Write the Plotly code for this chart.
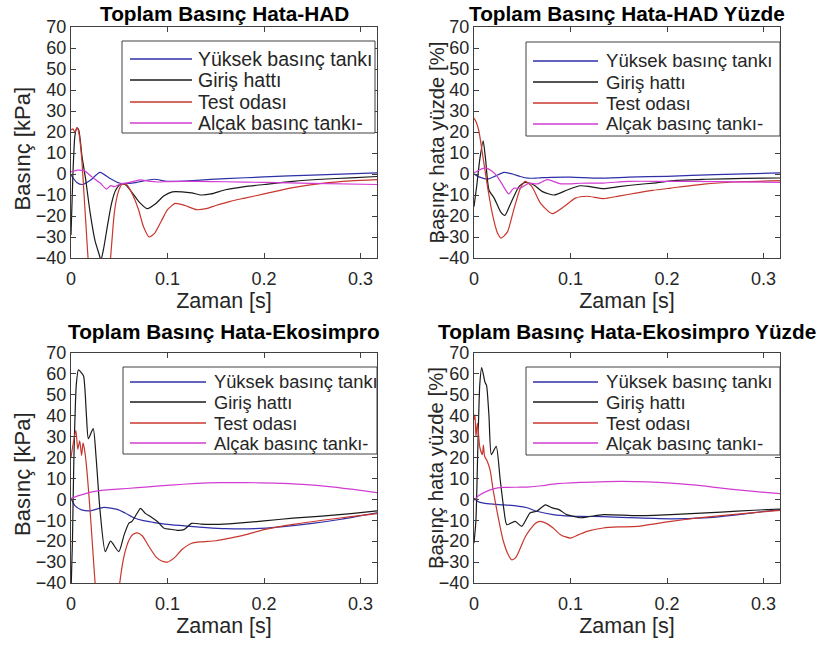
import plotly.graph_objects as go

# ---------------- data ----------------
names = ["Yüksek basınç tankı", "Giriş hattı", "Test odası", "Alçak basınç tankı-"]
colors = ["#2f2fa8", "#1a1a1a", "#c8372d", "#d23cd2"]

titles = ["Toplam Basınç Hata-HAD", "Toplam Basınç Hata-HAD Yüzde",
          "Toplam Basınç Hata-Ekosimpro", "Toplam Basınç Hata-Ekosimpro Yüzde"]
ylabels = ["Basınç [kPa]", "Basınç hata yüzde [%]", "Basınç [kPa]", "Basınç hata yüzde [%]"]
xlabel = "Zaman [s]"
xtick_vals = [0, 0.1, 0.2, 0.3]
xtick_text = ["0", "0.1", "0.2", "0.3"]
ytick_vals = [-40, -30, -20, -10, 0, 10, 20, 30, 40, 50, 60, 70]

# --- panel 1: HAD [kPa]
t1_blue = [0, 0.006, 0.012, 0.02, 0.03, 0.04, 0.05, 0.06, 0.07, 0.086, 0.1, 0.13, 0.16, 0.2, 0.25, 0.317]
y1_blue = [-0.5, -4, -5, -3, 0.8, -2, -4.3, -4.5, -3.8, -2.5, -3.5, -3, -2.2, -1.4, -0.5, 0.5]
t1_black = [0, 0.002, 0.004, 0.006, 0.008, 0.0115, 0.015, 0.02, 0.025, 0.029, 0.031, 0.034, 0.038,
            0.042, 0.046, 0.051, 0.056, 0.062, 0.07, 0.079, 0.088, 0.096, 0.105, 0.115, 0.125, 0.135,
            0.145, 0.16, 0.18, 0.2, 0.23, 0.26, 0.29, 0.317]
y1_black = [-29, 0, 18, 22, 21, 8, -2, -19, -32, -38, -41, -35, -24, -14, -8, -5, -5, -8, -13, -16.5,
            -14, -10.5, -8.5, -8.5, -9, -10, -9.5, -7.5, -6, -5, -3.5, -2.5, -1.8, -1.2]
t1_red = [0, 0.002, 0.004, 0.0065, 0.008, 0.011, 0.013, 0.016, 0.018, 0.025, 0.032, 0.038, 0.041, 0.045,
          0.049, 0.053, 0.058, 0.064, 0.07, 0.075, 0.081, 0.087, 0.094, 0.1, 0.108, 0.118, 0.13, 0.14,
          0.15, 0.165, 0.18, 0.2, 0.23, 0.26, 0.29, 0.317]
y1_red = [21, 21.5, 20, 22, 20, 8, -6, -28, -42, -70, -75, -55, -40, -18, -8.5, -4.8, -5.2, -10, -17, -25,
          -30, -28, -22, -17, -14, -15, -17, -16.5, -15, -13, -11.5, -9.5, -6.5, -4.5, -3.3, -2.7]
t1_mag = [0, 0.007, 0.014, 0.022, 0.03, 0.037, 0.041, 0.045, 0.051, 0.058, 0.065, 0.072, 0.08, 0.09,
          0.1, 0.13, 0.16, 0.2, 0.25, 0.317]
y1_mag = [1, 1.8, 1.5, -1.5, -4.2, -7.2, -5.5, -6, -4.8, -4.2, -3.5, -2.8, -3.4, -3.8, -3.6, -3.5, -3.7,
          -4, -4.5, -5]

# --- panel 2: HAD [%]
t2_blue = [0, 0.006, 0.014, 0.022, 0.031, 0.04, 0.048, 0.056, 0.066, 0.08, 0.1, 0.13, 0.16, 0.2, 0.25, 0.317]
y2_blue = [0, -1.5, -2.4, -1, 0.8, 0, -1.2, -2, -1.9, -1.6, -1.5, -2, -1.5, -1.1, -0.3, 0.5]
t2_black = [0, 0.003, 0.006, 0.0095, 0.012, 0.0155, 0.021, 0.0276, 0.032, 0.038, 0.0466, 0.053, 0.062,
            0.071, 0.083, 0.0966, 0.11, 0.12, 0.134, 0.15, 0.17, 0.186, 0.21, 0.24, 0.28, 0.317]
y2_black = [-15.6, -5, 7, 15.8, 7, -7.6, -11.6, -18, -19.7, -14, -6, -4, -5.2, -8.4, -10, -7.6, -5.6,
            -6, -7, -6, -5, -4.3, -3, -2.5, -2.1, -1.9]
t2_red = [0, 0.002, 0.005, 0.0086, 0.014, 0.019, 0.024, 0.028, 0.0345, 0.041, 0.048, 0.053, 0.06, 0.069,
          0.081, 0.093, 0.105, 0.117, 0.134, 0.15, 0.169, 0.185, 0.204, 0.238, 0.27, 0.317]
y2_red = [26.6, 25, 20.6, 10.2, -6, -18.9, -27.7, -30.5, -27.7, -17.3, -6.8, -3.5, -6, -14, -18.9, -15.6,
          -11.5, -10.6, -11.7, -10.5, -9, -7.8, -6.7, -4.8, -3.8, -3.2]
t2_mag = [0, 0.005, 0.012, 0.018, 0.024, 0.03, 0.036, 0.041, 0.048, 0.057, 0.066, 0.076, 0.09, 0.11,
          0.134, 0.16, 0.2, 0.25, 0.317]
y2_mag = [0.5, 1.8, 2.9, 1.5, -1.1, -5.5, -9.5, -6.8, -6.8, -4.4, -4.7, -2.7, -4.7, -4.4, -4.3, -3.5,
          -3.5, -3.6, -4]

# --- panel 3: Ekosimpro [kPa]
t3_blue = [0, 0.004, 0.011, 0.02, 0.034, 0.048, 0.056, 0.065, 0.075, 0.085, 0.1, 0.12, 0.14, 0.16, 0.19,
           0.22, 0.25, 0.28, 0.317]
y3_blue = [0.5, -3, -5, -5.5, -3.8, -4.8, -6.5, -8.8, -10.2, -11, -12, -12.8, -13.5, -14, -14, -13,
           -11.5, -9.5, -6.5]
t3_black = [0, 0.0015, 0.003, 0.0055, 0.0077, 0.01, 0.013, 0.016, 0.018, 0.023, 0.026, 0.03, 0.0355,
            0.041, 0.0495, 0.055, 0.06, 0.063, 0.068, 0.072, 0.077, 0.0826, 0.0895, 0.0965, 0.103, 0.11,
            0.117, 0.125, 0.135, 0.15, 0.17, 0.2, 0.23, 0.26, 0.29, 0.317]
y3_black = [-45, -20, 20, 55, 62, 61, 59, 40, 29, 33.8, 20, -5, -25, -20, -25, -17, -11.4, -10.6, -7,
            -4.3, -6.7, -8.3, -10.6, -13.8, -14.3, -14.8, -14.5, -11.5, -11.8, -12, -11.5, -10.3, -9,
            -8, -6.8, -5.5]
t3_red = [0, 0.002, 0.005, 0.007, 0.009, 0.011, 0.0125, 0.0146, 0.017, 0.02, 0.023, 0.025, 0.03, 0.04,
          0.048, 0.0505, 0.055, 0.06, 0.064, 0.0686, 0.074, 0.08, 0.088, 0.094, 0.1, 0.107, 0.115, 0.125,
          0.135, 0.15, 0.165, 0.18, 0.2, 0.23, 0.26, 0.29, 0.317]
y3_red = [20, 26, 33, 24, 28, 21, 27, 22, 11, -7, -27, -40, -62, -70, -52, -40, -27, -19.5, -16.8, -16,
          -17.5, -22, -27.5, -29.5, -30, -28, -24, -21, -20.3, -19.8, -18.5, -17, -14.5, -12, -10, -8.3,
          -6.8]
t3_mag = [0, 0.008, 0.016, 0.025, 0.034, 0.045, 0.058, 0.08, 0.103, 0.13, 0.154, 0.18, 0.21, 0.24, 0.27,
          0.3, 0.317]
y3_mag = [0.5, 1.8, 2.9, 3.8, 4.4, 4.8, 5.2, 6, 6.8, 7.6, 8, 8, 7.8, 7.2, 6, 4.3, 3.2]

# --- panel 4: Ekosimpro [%]
t4_blue = [0, 0.004, 0.01, 0.02, 0.03, 0.045, 0.055, 0.065, 0.082, 0.1, 0.11, 0.134, 0.169, 0.204,
           0.238, 0.27, 0.3, 0.317]
y4_blue = [0.6, -1, -1.8, -2.3, -2.6, -3.2, -4, -5.7, -7.3, -8, -8.1, -8.3, -8.9, -9.3, -8.9, -7.5,
           -5.8, -4.9]
t4_black = [0, 0.002, 0.004, 0.006, 0.008, 0.0114, 0.013, 0.0155, 0.018, 0.023, 0.027, 0.031, 0.034,
            0.0426, 0.0495, 0.058, 0.065, 0.074, 0.081, 0.088, 0.096, 0.103, 0.11, 0.12, 0.134, 0.169,
            0.204, 0.256, 0.29, 0.317]
y4_black = [-21, -10, 25, 55, 63, 56, 54.5, 40, 21.4, 25.4, 10, -5, -12.1, -10.5, -12.9, -6.5, -5.7,
            -2.6, -4.1, -4.9, -7.3, -8.1, -8.8, -8.2, -7.3, -7.8, -7.3, -6.1, -5.2, -4.6]
t4_red = [0, 0.001, 0.002, 0.0035, 0.006, 0.0087, 0.0097, 0.011, 0.0135, 0.0166, 0.02, 0.0236, 0.027,
          0.03, 0.035, 0.039, 0.043, 0.048, 0.053, 0.058, 0.0635, 0.0686, 0.075, 0.082, 0.09, 0.1, 0.108,
          0.117, 0.134, 0.15, 0.169, 0.204, 0.23, 0.256, 0.29, 0.317]
y4_red = [38, 40.5, 30, 36.5, 25, 21.4, 26, 20.6, 18.5, 14.2, 4, -5, -13, -19.3, -26, -28.9, -28, -23.3,
          -18, -14.5, -11.5, -10.5, -11.5, -13.7, -17, -18.5, -17, -15.3, -13.7, -13.2, -12.9, -10.5,
          -9, -7.8, -6.3, -5.3]
t4_mag = [0, 0.005, 0.013, 0.02, 0.03, 0.045, 0.055, 0.07, 0.082, 0.11, 0.13, 0.152, 0.18, 0.204, 0.23,
          0.256, 0.29, 0.317]
y4_mag = [-0.5, 1.8, 3.8, 5, 5.7, 5.8, 5.9, 6.5, 7.3, 8.1, 8.4, 8.6, 8.4, 7.8, 6.8, 5.4, 3.8, 2.7]

panels = [
    [(t1_blue, y1_blue), (t1_black, y1_black), (t1_red, y1_red), (t1_mag, y1_mag)],
    [(t2_blue, y2_blue), (t2_black, y2_black), (t2_red, y2_red), (t2_mag, y2_mag)],
    [(t3_blue, y3_blue), (t3_black, y3_black), (t3_red, y3_red), (t3_mag, y3_mag)],
    [(t4_blue, y4_blue), (t4_black, y4_black), (t4_red, y4_red), (t4_mag, y4_mag)],
]

# ---------------- layout geometry (page pixels of the 826x648 window) ----------------
W, H = 826, 648
boxes = [(71, 377, 27, 258), (474, 780, 27, 258), (71, 377, 353, 583), (474, 780, 353, 583)]
title_y = [14, 14, 331, 331]
title_size = 20.8
ytitle_x = [22, 436, 22, 436]
ytitle_size = [22, 20.3, 22, 20.3]
ytitle_dy = [6, 0, 6, 0]
# legend: left, right, top, bottom, line x0, line x1, text x, row centres, font size
legends = [
    (122, 375, 41, 133, 130, 192, 196, [59, 80, 102, 123], 19.5),
    (526, 780, 42, 136, 533, 598, 604, [61, 82, 103, 124], 18.6),
    (123, 377, 367, 454, 130, 206, 212, [382, 402, 423, 443], 18.3),
    (526, 780, 367, 455, 533, 598, 604, [382, 402, 423, 443], 18.6),
]

FONT = "Liberation Sans, Arial, Helvetica, sans-serif"
TXT = "#262626"
AX = "#404040"


def px_x(v):
    return v / W


def px_y(v):
    return 1 - v / H


fig = go.Figure()
layout = dict(
    width=W, height=H, margin=dict(l=0, r=0, t=0, b=0, autoexpand=False),
    paper_bgcolor="white", plot_bgcolor="white",
    font=dict(family=FONT, color=TXT), showlegend=False, annotations=[], shapes=[],
)

for i, (series, box) in enumerate(zip(panels, boxes)):
    k = "" if i == 0 else str(i + 1)
    for (tx, ty), nm, col in zip(series, names, colors):
        fig.add_trace(go.Scatter(
            x=tx, y=ty, name=nm, mode="lines",
            line=dict(color=col, width=1.2, shape="spline", smoothing=0.6),
            xaxis="x" + k, yaxis="y" + k, showlegend=False,
        ))
    x0, x1, y0, y1 = box
    axis_common = dict(showline=True, linecolor=AX, linewidth=1, mirror="ticks",
                       ticks="inside", ticklen=5, tickcolor=AX, showgrid=False,
                       zeroline=False, automargin=False,
                       tickfont=dict(size=18, family=FONT, color=TXT))
    layout["xaxis" + k] = dict(
        domain=[px_x(x0), px_x(x1)], anchor="y" + k, range=[0, 0.317],
        tickvals=xtick_vals, ticktext=xtick_text, ticklabelstandoff=4,
        title=dict(text=xlabel, font=dict(size=21.5, family=FONT, color=TXT), standoff=0),
        **axis_common)
    layout["yaxis" + k] = dict(
        domain=[px_y(y1), px_y(y0)], anchor="x" + k, range=[-40, 70],
        tickvals=ytick_vals, **axis_common)

    # y-axis title (rotated text)
    layout["annotations"].append(dict(
        text=ylabels[i], x=px_x(ytitle_x[i]), y=px_y((y0 + y1) / 2 + ytitle_dy[i]),
        xref="paper", yref="paper", xanchor="center", yanchor="middle", textangle=-90,
        showarrow=False, font=dict(size=ytitle_size[i], family=FONT, color=TXT),
    ))
    # panel title
    layout["annotations"].append(dict(
        text=f"<b>{titles[i]}</b>", x=px_x((x0 + x1) / 2), y=px_y(title_y[i]),
        xref="paper", yref="paper", xanchor="center", yanchor="middle", showarrow=False,
        font=dict(size=title_size, family=FONT, color="black"),
    ))

    # legend box (MATLAB style) drawn above the curves
    L, R, T, B, lx0, lx1, tx_, rows, fs = legends[i]
    layout["shapes"].append(dict(
        type="rect", xref="paper", yref="paper", x0=px_x(L), x1=px_x(R), y0=px_y(B), y1=px_y(T),
        line=dict(color=AX, width=1), fillcolor="white", layer="above",
    ))
    for nm, col, ry in zip(names, colors, rows):
        layout["shapes"].append(dict(
            type="line", xref="paper", yref="paper", x0=px_x(lx0), x1=px_x(lx1),
            y0=px_y(ry), y1=px_y(ry), line=dict(color=col, width=1.3), layer="above",
        ))
        layout["annotations"].append(dict(
            text=nm, x=px_x(tx_), y=px_y(ry), xref="paper", yref="paper",
            xanchor="left", yanchor="middle", showarrow=False,
            font=dict(size=fs, family=FONT, color=TXT),
        ))

fig.update_layout(**layout)
# the page's default 8px body margin would push the 826x648 figure off the window
fig.write_html("out.html", config={"displayModeBar": False},
               post_script="document.body.style.margin='0px';")
